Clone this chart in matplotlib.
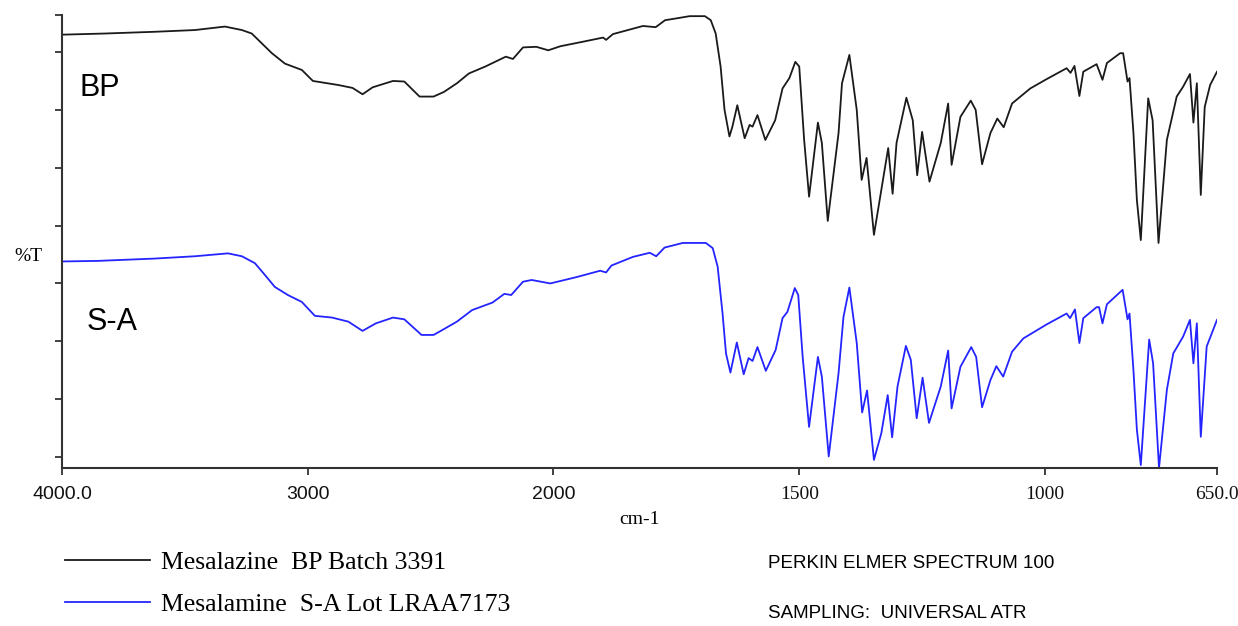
import numpy as np
import matplotlib
matplotlib.use('Agg')
import matplotlib.pyplot as plt

# wavenumber (cm-1) / %T values
wn_bp = [4000, 3825, 3622, 3459, 3337, 3268, 3228, 3187, 3146, 3093, 3024, 2979, 2876, 2818,
         2777, 2736, 2653, 2607, 2545, 2488, 2446, 2393, 2344, 2277, 2194, 2165, 2124, 2070,
         2021, 1986, 1939, 1899, 1893, 1879, 1818, 1792, 1773, 1751, 1723, 1692, 1680, 1670,
         1660, 1652, 1642, 1636, 1626, 1611, 1601, 1595, 1585, 1569, 1549, 1534, 1520, 1508,
         1500, 1490, 1480, 1462, 1454, 1442, 1420, 1413, 1398, 1383, 1373, 1363, 1348, 1319,
         1310, 1302, 1282, 1269, 1260, 1250, 1235, 1212, 1197, 1190, 1172, 1151, 1141, 1128,
         1111, 1097, 1084, 1067, 1030, 997, 956, 948, 940, 930, 922, 895, 883, 874, 847, 841,
         832, 828, 820, 813, 805, 790, 781, 769, 752, 732, 719, 705, 698, 691, 683, 675, 664, 650]
t_bp = [73.0, 73.2, 73.5, 73.8, 74.4, 73.8, 73.2, 71.5, 69.8, 68.0, 66.9, 65.0, 64.3, 63.8,
        62.7, 63.9, 65.0, 64.9, 62.3, 62.3, 63.1, 64.6, 66.3, 67.5, 69.2, 68.8, 70.8, 70.9,
        70.3, 71.0, 71.8, 72.5, 72.1, 73.1, 74.5, 74.3, 75.5, 75.8, 76.2, 76.2, 75.5, 73.2,
        67.5, 60.0, 55.4, 57.1, 60.8, 55.1, 57.4, 57.1, 59.1, 54.8, 58.2, 63.7, 65.5, 68.3,
        67.5, 54.8, 45.0, 57.8, 54.3, 40.8, 56.0, 64.6, 69.5, 60.0, 47.9, 51.7, 38.4, 53.4,
        45.5, 54.3, 62.1, 58.2, 48.7, 56.2, 47.6, 54.3, 61.1, 50.5, 58.8, 61.6, 60.0, 50.6,
        56.0, 58.5, 57.0, 61.1, 63.7, 65.3, 67.2, 66.4, 67.6, 62.4, 66.6, 67.9, 65.2, 68.1, 69.8, 69.8,
        64.9, 65.5, 56.0, 44.4, 37.5, 62.0, 58.2, 37.0, 54.8, 62.3, 64.0, 66.2, 57.8, 64.6, 45.3, 60.5, 64.3, 66.6]

wn_sa = [4000, 3854, 3622, 3459, 3325, 3268, 3215, 3175, 3134, 3081, 3024, 2971, 2901, 2835,
         2777, 2723, 2653, 2607, 2537, 2488, 2442, 2393, 2331, 2248, 2200, 2172, 2124, 2089,
         2013, 1953, 1905, 1893, 1882, 1838, 1804, 1791, 1774, 1737, 1690, 1676, 1666, 1656,
         1649, 1640, 1627, 1613, 1603, 1595, 1585, 1568, 1548, 1534, 1524, 1509, 1502, 1493,
         1480, 1462, 1454, 1440, 1420, 1410, 1398, 1383, 1372, 1362, 1348, 1333, 1320, 1311,
         1300, 1283, 1273, 1261, 1249, 1236, 1212, 1197, 1190, 1172, 1150, 1140, 1128, 1111,
         1099, 1085, 1067, 1044, 997, 956, 949, 939, 930, 922, 895, 890, 883, 874, 842, 832,
         828, 820, 813, 805, 788, 780, 768, 752, 739, 719, 705, 698, 691, 683, 671, 650]
t_sa = [33.8, 33.9, 34.3, 34.7, 35.2, 34.7, 33.5, 31.5, 29.4, 28.0, 26.8, 24.4, 24.1, 23.4,
        21.8, 23.1, 24.1, 23.8, 21.1, 21.1, 22.2, 23.4, 25.4, 26.7, 28.2, 28.0, 30.3, 30.6,
        30.0, 31.1, 32.2, 31.9, 33.1, 34.6, 35.3, 34.7, 36.2, 37.0, 37.0, 36.1, 32.9, 24.8,
        17.9, 14.6, 19.8, 14.3, 17.1, 16.6, 19.0, 14.9, 18.5, 24.0, 25.1, 29.2, 28.0, 17.3,
        5.2, 17.3, 13.9, 0.1, 14.5, 24.2, 29.3, 19.7, 7.7, 11.5, -0.5, 4.1, 10.7, 3.4,
        12.2, 19.2, 16.8, 6.7, 13.7, 5.9, 12.2, 18.4, 8.4, 15.6, 19.0, 17.3, 8.6, 13.3,
        15.7, 13.9, 18.2, 20.5, 22.9, 24.8, 24.0, 25.5, 19.7, 24.0, 25.9, 25.9, 23.1, 26.4, 28.9, 23.8,
        24.8, 15.0, 4.7, -1.4, 20.3, 16.2, -1.9, 11.6, 17.9, 20.8, 23.7, 16.2, 23.1, 3.5, 19.1, 23.7]

xticks = [4000, 3000, 2000, 1500, 1000, 650]
xticklabels = ['4000.0', '3000', '2000', '1500', '1000', '650.0']
series_names = ['Mesalazine  BP Batch 3391', 'Mesalamine  S-A Lot LRAA7173']
series_tags = ['BP', 'S-A']
instrument = ['PERKIN ELMER SPECTRUM 100', 'SAMPLING:  UNIVERSAL ATR']

# scale is expanded x2 below 2000 cm-1, like the Perkin Elmer plots
def fwd(x):
    x = np.asarray(x, dtype=float)
    return np.where(x <= 2000, x, 2000 + (x - 2000) / 2.0)

def inv(u):
    u = np.asarray(u, dtype=float)
    return np.where(u <= 2000, u, 2000 + (u - 2000) * 2.0)

W, H = 1238, 626
fig = plt.figure(figsize=(W / 100, H / 100), dpi=100)
ax = fig.add_axes([62 / W, 1 - 468 / H, (1217 - 62) / W, (468 - 15) / H])

ax.plot(wn_bp, t_bp, color='#1a1a1a', lw=1.3, label=series_names[0])
ax.plot(wn_sa, t_sa, color='#2424ff', lw=1.3, label=series_names[1])

ax.set_xscale('function', functions=(fwd, inv))
ax.set_xlim(4000, 650)
ax.set_ylim(-1.9, 76.4)
ax.set_xticks(xticks)
ax.set_xticklabels(xticklabels)
ax.set_yticks(list(range(0, 80, 10)) + [76.4])
ax.set_yticklabels([])

for s in ['top', 'right']:
    ax.spines[s].set_visible(False)
for s in ['left', 'bottom']:
    ax.spines[s].set_color('#333333')
    ax.spines[s].set_linewidth(1.5)
ax.tick_params(direction='out', length=5, width=1.3, color='#333333', pad=8)

sans = 'Liberation Sans'
for i, lab in enumerate(ax.get_xticklabels()):
    if i < 3:
        lab.set_family(sans)
        lab.set_fontsize(14)
    else:
        lab.set_family('Liberation Serif')
        lab.set_fontsize(14)
    lab.set_color('#111111')

ax.set_xlabel('cm-1', family='Liberation Serif', fontsize=14, labelpad=6)
fig.text(28 / W, 1 - 257 / H, '%T', family='Liberation Serif', fontsize=14,
         ha='center', va='center')

fig.text(100 / W, 1 - 88 / H, series_tags[0], family=sans, fontsize=22,
         ha='center', va='center')
fig.text(112 / W, 1 - 322 / H, series_tags[1], family=sans, fontsize=22,
         ha='center', va='center')

leg = fig.legend(loc='upper left', bbox_to_anchor=(65 / W, 1 - 551 / H),
                 frameon=False, prop={'family': 'Liberation Serif', 'size': 18.5},
                 handlelength=3.3, handletextpad=0.45, labelspacing=0.75,
                 borderpad=0, borderaxespad=0)

fig.text(768 / W, 1 - 563 / H, instrument[0], family=sans, fontsize=13.5,
         ha='left', va='center')
fig.text(768 / W, 1 - 614 / H, instrument[1], family=sans, fontsize=13.5,
         ha='left', va='center')

fig.savefig('out.png', dpi=100)
